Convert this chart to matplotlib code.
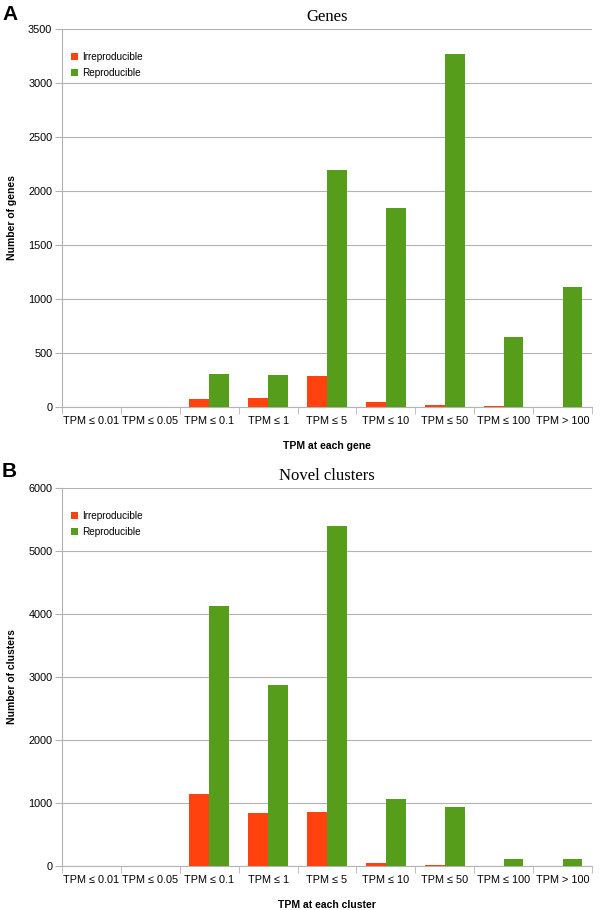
import matplotlib
matplotlib.use('Agg')
import matplotlib.pyplot as plt
import numpy as np

plt.rcParams['font.family'] = ['Liberation Sans', 'DejaVu Sans']

# data
categories = ['TPM ≤ 0.01', 'TPM ≤ 0.05', 'TPM ≤ 0.1', 'TPM ≤ 1', 'TPM ≤ 5',
              'TPM ≤ 10', 'TPM ≤ 50', 'TPM ≤ 100', 'TPM > 100']
genes_irr = [0, 0, 75, 80, 290, 45, 15, 5, 3]
genes_rep = [0, 0, 310, 300, 2195, 1845, 3270, 650, 1115]
clusters_irr = [0, 0, 1140, 840, 860, 50, 15, 2, 2]
clusters_rep = [0, 0, 4120, 2880, 5400, 1070, 940, 115, 105]

RED = '#FF420E'
GREEN = '#579D1C'
GRID = '#b3b3b3'

fig = plt.figure(figsize=(6, 9.1), dpi=100)
W, H = 600, 910


def draw_panel(rect, irr, rep, ymax, ystep, title, ylabel, xlabel, letter, letter_y):
    l, t, r, b = rect
    ax = fig.add_axes([l / W, 1 - b / H, (r - l) / W, (b - t) / H])
    x = np.arange(len(categories))
    bw = 0.335
    ax.bar(x - bw / 2, irr, bw, color=RED, zorder=3, label='Irreproducible')
    ax.bar(x + bw / 2, rep, bw, color=GREEN, zorder=3, label='Reproducible')
    ax.set_xlim(-0.5, len(categories) - 0.5)
    ax.set_ylim(0, ymax)
    ax.set_yticks(np.arange(0, ymax + 1, ystep))
    ax.yaxis.grid(True, color=GRID, lw=0.8, zorder=0)
    ax.set_xticks(x)
    ax.set_xticklabels(categories, fontsize=7.8, va='baseline')
    ax.set_xticks(np.arange(-0.5, len(categories)), minor=True)
    ax.tick_params(axis='x', which='major', length=0, pad=12)
    ax.tick_params(axis='x', which='minor', length=5, color=GRID)
    ax.tick_params(axis='y', length=5, color=GRID, labelsize=7.8, pad=2)
    for s in ['top', 'right']:
        ax.spines[s].set_visible(False)
    for s in ['left', 'bottom']:
        ax.spines[s].set_color(GRID)
    ax.set_title(title, family='Liberation Serif', fontsize=12, pad=6)
    ax.set_ylabel(ylabel, fontsize=7.5, fontweight='bold', labelpad=8)
    ax.set_xlabel(xlabel, fontsize=7.5, fontweight='bold', labelpad=11)
    ax.legend(loc='upper left', bbox_to_anchor=(0.0, 0.962), frameon=False,
              fontsize=7.2, handlelength=0.7, handleheight=0.7,
              handletextpad=0.4, labelspacing=0.55)
    fig.text(2 / W, 1 - letter_y / H, letter, fontsize=15, fontweight='bold',
             va='center', ha='left')
    return ax


draw_panel((62, 29, 592, 407), genes_irr, genes_rep, 3500, 500,
           'Genes', 'Number of genes', 'TPM at each gene', 'A', 15)
draw_panel((62, 488, 592, 866), clusters_irr, clusters_rep, 6000, 1000,
           'Novel clusters', 'Number of clusters', 'TPM at each cluster', 'B', 471)

fig.savefig('out.png', dpi=100)
